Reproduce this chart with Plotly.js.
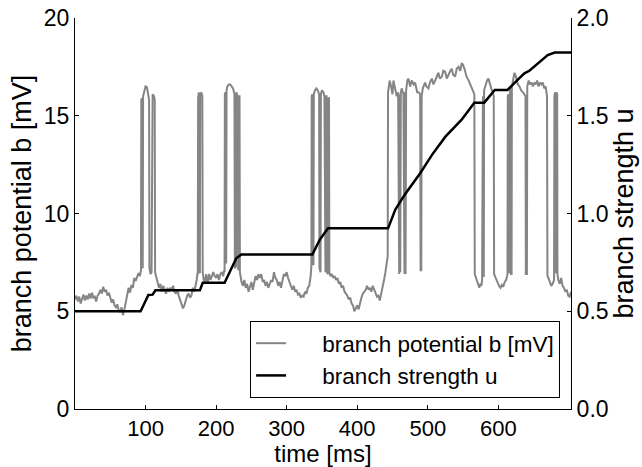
<!DOCTYPE html>
<html>
<head>
<meta charset="utf-8">
<script src="https://cdn.plot.ly/plotly-3.0.1.min.js"></script>
<style>html,body{margin:0;padding:0;background:#fff;}#chart{width:642px;height:467px;}</style>
</head>
<body>
<div id="chart"></div>
<script>
// branch potential b [mV] over time [ms] (gray trace)
const timeMs = [
  0,2,4,6,8,10,12,14,16,18,20,22,24,26,28,30,32,34,36,38,40,42,44,46,48,50,52,54,56,58,60,62,64,66,68,70,72,74,76,78,80,82,84,86,88,90,92,93.5,
  94,94.8,95.3,96,96.5,98,100,102,104,105,105.5,107,108.5,109,110,112,113,113.5,
  115,117,119,121,123,125,127,129,131,133,135,137,139,141,143,145,147,149,151,153,155,157,159,161,163,165,167,169,171,172.5,173.5,
  174,174.5,175.5,176,177,177.5,179,180.5,181,
  182.5,184,186,188,190,192,194,196,198,200,202,204,206,208,210,211.5,
  212,212.4,213.3,213.8,214.3,214.8,216,218,220,222,224,226,226.6,228.2,228.6,229.8,230.3,231.3,231.8,233.2,233.7,
  236,238,240,242,244,246,248,250,252,254,256,258,260,262,264,266,268,270,272,274,276,278,280,282,284,286,288,290,292,294,296,298,300,302,304,306,308,310,312,314,316,318,320,322,324,326,328,330,332,334,
  335,335.5,336.5,337,338,338.5,340,342,344,346,346.5,348,348.5,350,352,353.5,354,355,355.5,356.5,357,358.5,359,360,360.5,
  362,364,366,368,370,372,374,376,378,380,382,384,386,388,390,392,394,396,398,400,402,404,406,408,410,412,414,416,418,420,422,424,426,428,430,432,434,436,438,440,442,443.2,
  443.7,446,448,450,451.3,453.7,456,458,458.5,459.5,460,461,461.8,463.1,465.5,466,467,467.5,468.5,469.3,471,472.6,475,477.3,480,482,485,487,489.2,489.8,490.8,491.3,493,496.2,498,500.9,503,505.7,508,510.4,513,515.1,517,519.9,522,524.6,527,529.3,532,534,536,538.8,541,543.5,546,548.2,550,552,555,558,561.5,564,566,
  566.6,567.5,569,571,573,574.5,576,577,577.4,578.2,578.6,579.4,579.8,582,584,586,588,590,592,593.5,594,595,597,599,601,603,605,607,609,611,612.5,613,613.4,614.4,614.8,616,616.4,617.5,618,618.8,619.2,621,622.9,625,627.7,630,632.4,635,637,638.5,639,640.5,641,643,645,647,649,651,653,655,657,659,661,663,665,667,669,669.6,671,673,675,677,679,679.5,680.5,681,682,682.4,683.4,683.8,685,687,689,691,693,695,697,699,701,703
];
const branchPotential = [
  5.6,5.8,5.5,5.75,5.4,5.7,5.85,5.55,5.8,5.6,5.9,5.65,5.95,5.7,5.75,5.5,5.8,5.9,6.1,5.9,6.25,6.0,6.1,5.8,5.95,5.7,5.45,5.6,5.3,5.2,5.35,5.05,4.95,5.2,4.8,5.1,5.5,5.9,6.2,5.95,6.35,6.2,6.7,6.55,6.8,6.95,6.8,7.1,
  15.8,15.9,7.3,7.2,16.0,16.3,16.5,16.45,16.1,15.8,7.2,6.9,7.0,15.9,16.1,16.0,15.8,7.0,
  6.8,6.5,6.2,6.4,6.0,6.3,6.1,5.9,6.2,6.0,6.2,6.1,6.3,6.0,5.9,6.1,5.8,5.6,5.4,5.15,5.3,5.6,5.8,5.9,5.7,5.8,6.2,6.0,6.3,6.6,6.9,
  6.9,15.9,16.2,7.0,7.0,16.0,16.2,16.0,7.0,
  6.6,6.5,6.9,6.4,6.9,6.6,6.8,7.0,6.8,6.7,6.9,6.6,6.9,7.0,6.8,7.1,
  7.0,16.1,16.2,7.5,7.5,16.3,16.5,16.6,16.6,16.5,16.4,16.1,7.2,7.3,16.2,16.1,7.2,7.1,16.0,16.0,7.0,
  6.5,6.3,6.6,6.2,6.4,6.0,6.3,6.5,6.1,6.4,6.8,6.6,6.9,6.7,6.9,6.5,6.6,6.3,6.5,6.2,6.4,6.6,6.5,7.0,6.7,6.6,6.3,6.5,6.2,6.6,6.9,6.8,7.0,6.7,6.5,6.4,6.1,6.3,6.0,6.1,5.85,5.9,5.7,5.8,5.75,6.0,5.9,6.2,6.3,6.8,
  7.3,16.0,16.1,7.4,7.4,16.1,16.3,16.4,16.3,16.1,7.2,7.0,16.1,16.3,16.2,16.0,7.1,7.0,16.0,16.0,7.0,6.9,15.9,15.9,7.0,
  6.8,6.9,6.7,6.8,6.6,6.7,6.4,6.5,6.2,6.3,6.0,5.9,5.8,5.6,5.7,5.4,5.3,5.0,5.2,5.3,5.1,5.5,5.7,5.9,6.0,6.1,6.3,6.1,6.2,6.0,6.3,6.1,5.9,5.75,5.8,5.55,5.9,6.2,6.6,7.0,7.4,7.8,
  16.2,16.8,16.5,16.1,16.8,16.3,16.0,16.2,7.0,6.9,16.1,7.0,16.2,16.4,16.1,6.9,6.9,16.2,6.9,16.3,16.8,16.9,16.5,16.8,16.6,16.7,16.2,16.2,16.1,7.1,7.1,16.0,16.4,16.7,16.5,16.4,16.7,16.9,16.6,16.8,17.0,17.2,16.9,17.0,17.3,17.25,16.9,17.1,17.3,17.4,17.1,17.0,17.4,17.5,17.3,17.7,17.6,17.4,17.0,16.8,16.5,16.3,16.1,
  6.9,6.8,6.6,6.5,6.2,6.4,6.3,6.6,16.0,16.0,6.8,6.8,16.3,16.6,16.8,16.9,16.6,16.4,16.2,16.0,6.9,6.8,6.6,6.5,6.3,6.2,6.35,6.25,6.5,6.6,6.8,6.9,16.0,16.1,7.0,7.0,16.2,16.4,6.9,6.9,16.5,16.9,17.2,17.0,16.6,16.5,16.3,16.2,16.1,16.0,6.9,6.9,16.5,16.8,16.6,16.7,16.5,16.7,16.6,16.8,16.5,16.7,16.6,16.7,16.4,16.5,16.0,6.8,6.7,6.5,6.3,6.4,6.6,16.0,16.2,7.0,7.0,16.2,16.1,6.9,6.6,6.4,6.7,6.3,6.2,6.0,6.1,5.8,5.75,6.0
];

// branch strength u over time [ms] (black trace)
const strengthTime = [0,93,104,110,114,177,181,212,228.6,235.7,336.4,346.8,358.6,443.7,454,468,489,506,525,548,566,580,595,613,628,637,644,670,680,703];
const branchStrength = [0.5,0.5,0.583,0.585,0.607,0.607,0.646,0.646,0.771,0.79,0.79,0.865,0.924,0.924,1.02,1.10,1.205,1.30,1.393,1.48,1.567,1.567,1.632,1.632,1.686,1.717,1.73,1.81,1.823,1.823];

// ticks
const xTicks = [100,200,300,400,500,600];
const yTicks = [0,5,10,15,20];
const y2Ticks = [0,0.5,1.0,1.5,2.0];
const y2TickText = ['0.0','0.5','1.0','1.5','2.0'];

const nb = '\u00a0\u00a0\u00a0\u00a0\u00a0';
const FONT = 'Liberation Sans, Arial, sans-serif';

const traces = [
  {x: timeMs, y: branchPotential, type: 'scatter', mode: 'lines', name: nb + 'branch potential b [mV]',
   line: {color: '#858585', width: 2}, yaxis: 'y'},
  {x: strengthTime, y: branchStrength, type: 'scatter', mode: 'lines', name: nb + 'branch strength u',
   line: {color: '#000000', width: 2.5}, yaxis: 'y2'}
];

const layout = {
  width: 642, height: 467,
  margin: {l: 75, r: 71, t: 18, b: 58, pad: 0},
  paper_bgcolor: '#fff', plot_bgcolor: '#fff',
  font: {family: FONT, size: 23, color: '#000'},
  showlegend: true,
  legend: {x: 0.978, y: 0.028, xanchor: 'right', yanchor: 'bottom', bgcolor: '#fff',
           bordercolor: '#000', borderwidth: 1, font: {family: FONT, size: 22.5, color: '#000'},
           tracegroupgap: 0, itemwidth: 30},
  xaxis: {range: [0, 703], tickvals: xTicks, ticks: 'inside', ticklen: 4, tickcolor: '#000',
          showline: true, linecolor: '#000', linewidth: 1, mirror: false, showgrid: false, zeroline: false,
          title: {text: 'time [ms]', font: {size: 24}, standoff: 3}, tickfont: {size: 22}},
  yaxis: {range: [0, 20], tickvals: yTicks, ticks: 'inside', ticklen: 4, tickcolor: '#000',
          showline: true, linecolor: '#000', linewidth: 1, showgrid: false, zeroline: false,
          title: {text: 'branch potential b [mV]', font: {size: 27}, standoff: 4}, tickfont: {size: 23}},
  yaxis2: {range: [0, 2], overlaying: 'y', side: 'right', tickvals: y2Ticks, ticktext: y2TickText,
           ticks: 'inside', ticklen: 4, tickcolor: '#000',
           showline: true, linecolor: '#000', linewidth: 1, showgrid: false, zeroline: false,
           title: {text: 'branch strength u', font: {size: 27}, standoff: 4}, tickfont: {size: 23}}
};

Plotly.newPlot('chart', traces, layout, {staticPlot: true, displayModeBar: false});
</script>
</body>
</html>
